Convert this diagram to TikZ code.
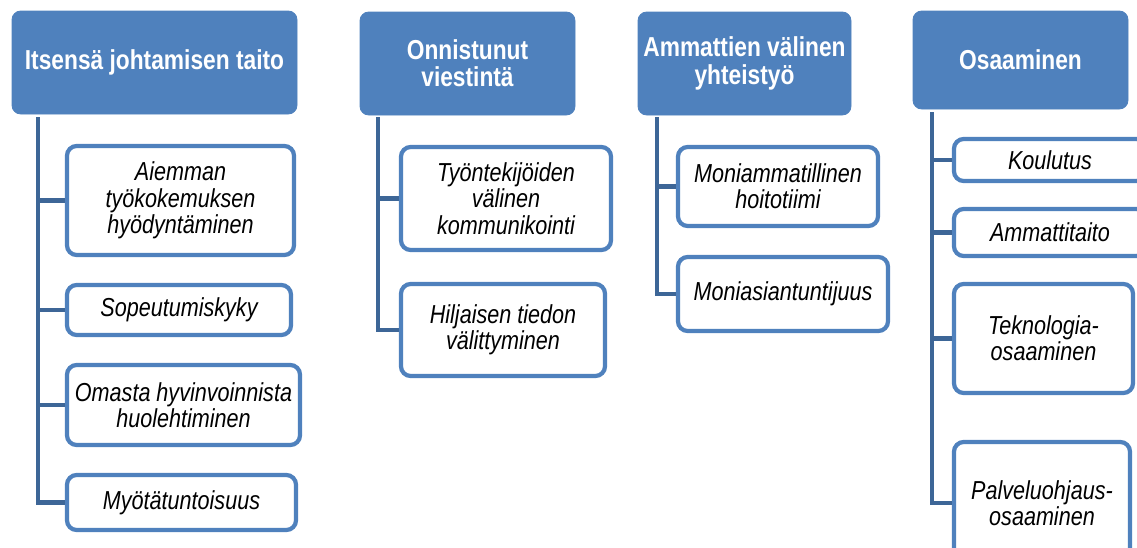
\documentclass[tikz,border=0pt]{standalone}
\usepackage{fontspec}
\newfontfamily\diagfont{Liberation Sans}[FakeStretch=0.83]
\usepackage{tikz}
\usetikzlibrary{positioning}
\definecolor{hdblue}{HTML}{4F81BD}
\definecolor{lnblue}{HTML}{3D6697}
\newcommand{\pxu}{0.02cm}

\begin{document}
\begin{tikzpicture}[x=0.02cm,y=-0.02cm]
  \tikzset{header/.style = {shape=rectangle,rounded corners=5pt,fill=hdblue,draw=hdblue,line width=0.5pt,
      text=white,align=center,inner sep=2pt,font=\diagfont\fontsize{15.6}{15.5}\selectfont\bfseries}}
  \tikzset{item/.style = {shape=rectangle,rounded corners=5.5pt,draw=hdblue,fill=white,line width=2.4pt,
      text=black,align=center,inner sep=2pt,font=\diagfont\fontsize{14.8}{15}\selectfont\itshape}}
  \tikzset{branch/.style = {draw=lnblue,line width=2.8pt}}

  \useasboundingbox (0,0) rectangle (1137,548);
  \clip (0,0) rectangle (1137,548);

  % headers
  \node[header,minimum width=285*\pxu,minimum height=103*\pxu] (H1) at (154.5,62.5) {Itsensä johtamisen taito};
  \node[header,minimum width=215*\pxu,minimum height=103*\pxu] (H2) at (467.5,63.5) {Onnistunut\\viestintä};
  \node[header,minimum width=213*\pxu,minimum height=103*\pxu] (H3) at (744.5,63.5) {Ammattien välinen\\yhteistyö};
  \node[header,minimum width=215*\pxu,minimum height=98*\pxu] (H4) at (1020.5,60) {Osaaminen};

  % items
  \node[item,minimum width=227*\pxu,minimum height=109*\pxu] (I11) at (180.5,200.5) {Aiemman\\työkokemuksen\\hyödyntäminen};
  \node[item,minimum width=224*\pxu,minimum height=50*\pxu] (I12) at (179,310) {Sopeutumiskyky};
  \node[item,minimum width=233*\pxu,minimum height=80*\pxu] (I13) at (183.5,405) {Omasta hyvinvoinnista\\huolehtiminen};
  \node[item,minimum width=229*\pxu,minimum height=55*\pxu] (I14) at (181.5,502.5) {Myötätuntoisuus};

  \node[item,minimum width=210*\pxu,minimum height=103*\pxu] (I21) at (506,198.5) {Työntekijöiden\\välinen\\kommunikointi};
  \node[item,minimum width=204*\pxu,minimum height=92*\pxu] (I22) at (503,330) {Hiljaisen tiedon\\välittyminen};

  \node[item,minimum width=200*\pxu,minimum height=79*\pxu] (I31) at (778,186.5) {Moniammatillinen\\hoitotiimi};
  \node[item,minimum width=210*\pxu,minimum height=74*\pxu] (I32) at (783,294) {Moniasiantuntijuus};

  \node[item,minimum width=192*\pxu,minimum height=42*\pxu] (I41) at (1050,160) {Koulutus};
  \node[item,minimum width=192*\pxu,minimum height=47*\pxu] (I42) at (1050,232.5) {Ammattitaito};
  \node[item,minimum width=179*\pxu,minimum height=109*\pxu] (I43) at (1043.5,338.5) {Teknologia-\\osaaminen};
  \node[item,minimum width=176*\pxu,minimum height=122*\pxu] (I44) at (1042,503) {Palveluohjaus-\\osaaminen};

  \coordinate (T1) at (38,117);
  \coordinate (T2) at (378,117);
  \coordinate (T3) at (657,117);
  \coordinate (T4) at (932,112);

  \foreach \from/\to in {T1/I14, T2/I22, T3/I32, T4/I44}
    \draw[branch] (\from) |- (\to.west);
  \foreach \from/\to in {T1/I11, T1/I12, T1/I13, T2/I21, T3/I31, T4/I41, T4/I42, T4/I43}
    \draw[branch] (\from |- \to.west) -- (\to.west);
\end{tikzpicture}
\end{document}
